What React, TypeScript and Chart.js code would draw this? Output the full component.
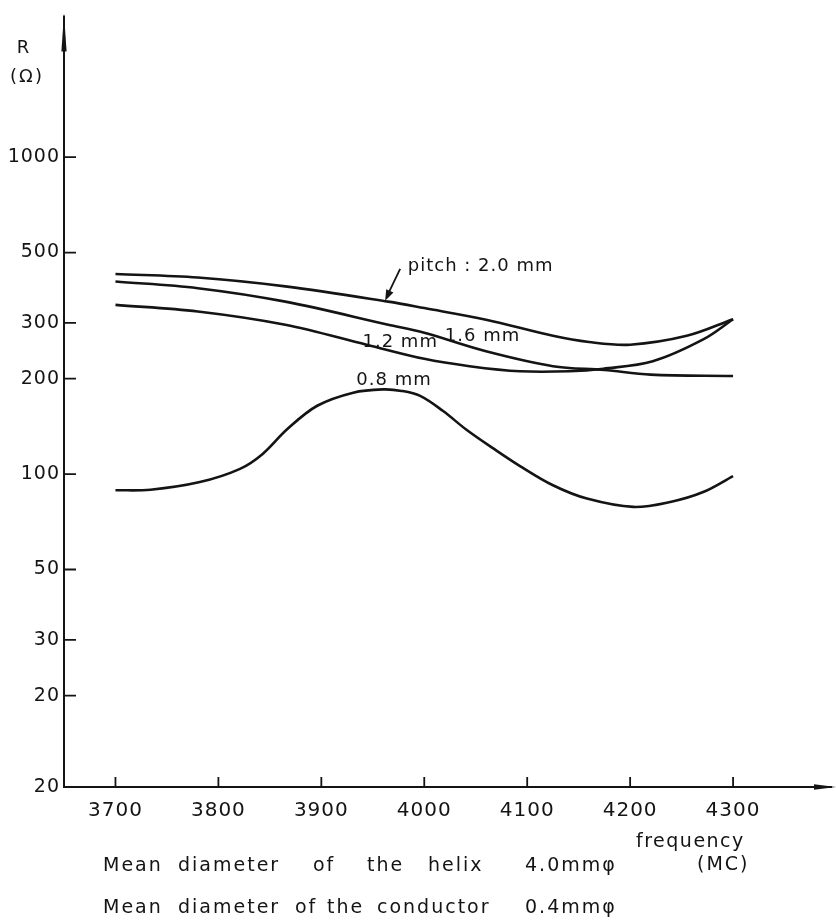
import React, { useEffect, useRef } from 'react';
import { Chart, registerables } from 'chart.js';

Chart.register(...registerables);

// ---- data (frequency in MC, resistance R in ohm) ----
const freqPitch20 = [3700, 3780, 3865, 3965, 4000, 4060, 4125, 4160, 4200, 4255, 4300];
const rPitch20 = [428, 417, 391, 350, 334, 307, 273, 261, 256, 273, 308];

const freqPitch16 = [3700, 3780, 3865, 3965, 4000, 4060, 4125, 4175, 4220, 4300];
const rPitch16 = [405, 386, 350, 296, 279, 244, 219, 213, 206, 204];

const freqPitch12 = [3700, 3780, 3865, 3944, 4000, 4044, 4093, 4141, 4174, 4222, 4271, 4300];
const rPitch12 = [342, 326, 296, 256, 231, 219, 211, 211, 215, 227, 266, 308];

const freqPitch08 = [3700, 3734, 3782, 3821, 3843, 3867, 3896, 3931, 3960, 3978, 3996, 4018, 4041, 4067, 4093, 4125, 4158, 4203, 4239, 4271, 4300];
const rPitch08 = [88.9, 89.3, 94.4, 103.9, 115.8, 138.7, 164.3, 180.7, 185, 183, 176.5, 158.4, 138.0, 120.5, 106.0, 92.2, 83.7, 78.8, 81.7, 87.8, 98.6];

const seriesNames = ['pitch : 2.0 mm', '1.6 mm', '1.2 mm', '0.8 mm'];

const xTickValues = [3700, 3800, 3900, 4000, 4100, 4200, 4300];
const yTickValues = [20, 30, 50, 100, 200, 300, 500, 1000];
const yBottomLabel = '20';
const xMin = 3650;
const xMax = 4400;
const yMin = 10.3;
const yMax = 2800;

// label anchors in data units (left edge, vertical centre)
const curveLabelAnchors = [
  { text: seriesNames[0], f: 3984, r: 452 },
  { text: seriesNames[1], f: 4020, r: 272 },
  { text: seriesNames[2], f: 3940, r: 261 },
  { text: seriesNames[3], f: 3934, r: 198 },
];
const pitchArrowTip = { f: 3962, r: 352 };

const INK = '#141414';
const FONT = '"DejaVu Sans", sans-serif';

function pts(fs: number[], rs: number[]) {
  return fs.map((f, i) => ({ x: f, y: rs[i] }));
}

const decorPlugin = {
  id: 'decor',
  beforeDraw(chart: any) {
    const ctx = chart.ctx;
    ctx.save();
    ctx.letterSpacing = '1px';
  },
  afterDraw(chart: any) {
    const ctx = chart.ctx;
    ctx.restore();
    const { left, right, top, bottom } = chart.chartArea;
    const xs = chart.scales.x;
    const ys = chart.scales.y;
    ctx.save();
    ctx.strokeStyle = INK;
    ctx.fillStyle = INK;
    ctx.lineWidth = 2;
    ctx.lineCap = 'butt';
    // axes
    ctx.beginPath();
    ctx.moveTo(left, bottom + 1);
    ctx.lineTo(left, top);
    ctx.moveTo(left - 1, bottom);
    ctx.lineTo(right - 4, bottom);
    ctx.stroke();
    // arrow heads
    ctx.beginPath();
    ctx.moveTo(left, top - 2);
    ctx.lineTo(left - 2.6, top + 36);
    ctx.lineTo(left + 2.6, top + 36);
    ctx.closePath();
    ctx.fill();
    ctx.beginPath();
    ctx.moveTo(right, bottom);
    ctx.lineTo(right - 22, bottom - 2.8);
    ctx.lineTo(right - 22, bottom + 2.8);
    ctx.closePath();
    ctx.fill();
    // inward ticks
    ctx.lineWidth = 1.8;
    ctx.beginPath();
    yTickValues.forEach((v) => {
      const py = ys.getPixelForValue(v);
      ctx.moveTo(left, py);
      ctx.lineTo(left + 12, py);
    });
    xTickValues.forEach((v) => {
      const px = xs.getPixelForValue(v);
      ctx.moveTo(px, bottom);
      ctx.lineTo(px, bottom - 10);
    });
    ctx.stroke();

    // curve labels
    ctx.textBaseline = 'middle';
    ctx.textAlign = 'left';
    ctx.font = `18px ${FONT}`;
    ctx.letterSpacing = '1px';
    curveLabelAnchors.forEach((a) => {
      ctx.fillText(a.text, xs.getPixelForValue(a.f), ys.getPixelForValue(a.r));
    });
    // pitch arrow
    const tx = xs.getPixelForValue(pitchArrowTip.f);
    const ty = ys.getPixelForValue(pitchArrowTip.r);
    const sx = tx + 15;
    const sy = ty - 32;
    ctx.lineWidth = 1.8;
    ctx.beginPath();
    ctx.moveTo(sx, sy);
    ctx.lineTo(tx + 2, ty - 5);
    ctx.stroke();
    const ang = Math.atan2(ty - sy, tx - sx);
    ctx.beginPath();
    ctx.moveTo(tx, ty);
    ctx.lineTo(tx - 11 * Math.cos(ang) + 4 * Math.sin(ang), ty - 11 * Math.sin(ang) - 4 * Math.cos(ang));
    ctx.lineTo(tx - 11 * Math.cos(ang) - 4 * Math.sin(ang), ty - 11 * Math.sin(ang) + 4 * Math.cos(ang));
    ctx.closePath();
    ctx.fill();

    // axis titles
    ctx.font = `18px ${FONT}`;
    ctx.textAlign = 'center';
    ctx.letterSpacing = '0px';
    ctx.fillText('R', 23, 48);
    ctx.letterSpacing = '2px';
    ctx.fillText('(Ω)', 27, 77);

    ctx.font = `19px ${FONT}`;
    ctx.textAlign = 'left';
    ctx.letterSpacing = '1.5px';
    ctx.fillText('frequency', 636, 842);
    ctx.letterSpacing = '2px';
    ctx.fillText('(MC)', 697, 865);

    // notes
    const line1: [string, number][] = [
      ['Mean', 103], ['diameter', 178], ['of', 313], ['the', 367], ['helix', 428], ['4.0mmφ', 525],
    ];
    const line2: [string, number][] = [
      ['Mean', 103], ['diameter', 178], ['of', 295], ['the', 327], ['conductor', 377], ['0.4mmφ', 525],
    ];
    ctx.letterSpacing = '2px';
    line1.forEach(([t, x]) => ctx.fillText(t, x, 866));
    line2.forEach(([t, x]) => ctx.fillText(t, x, 908));
    ctx.restore();
  },
};

export default function App() {
  const canvasRef = useRef<HTMLCanvasElement | null>(null);

  useEffect(() => {
    if (!canvasRef.current) return;
    const lineDs = (label: string, fs: number[], rs: number[]) => ({
      label,
      data: pts(fs, rs),
      borderColor: INK,
      backgroundColor: INK,
      borderWidth: 2.6,
      pointRadius: 0,
      fill: false,
      tension: 0.35,
    });
    const chart = new Chart(canvasRef.current, {
      type: 'line',
      data: {
        datasets: [
          lineDs(seriesNames[0], freqPitch20, rPitch20),
          lineDs(seriesNames[1], freqPitch16, rPitch16),
          lineDs(seriesNames[2], freqPitch12, rPitch12),
          lineDs(seriesNames[3], freqPitch08, rPitch08),
        ],
      },
      options: {
        animation: false,
        responsive: true,
        maintainAspectRatio: false,
        layout: { padding: { top: 10, right: 0, left: 0, bottom: 0 } },
        plugins: { legend: { display: false }, tooltip: { enabled: false } },
        scales: {
          x: {
            type: 'linear',
            min: xMin,
            max: xMax,
            grid: { display: false, drawTicks: false },
            border: { display: false },
            afterBuildTicks: (s: any) => {
              s.ticks = xTickValues.map((v) => ({ value: v }));
            },
            afterFit: (s: any) => {
              s.height = 134;
            },
            ticks: {
              autoSkip: false,
              maxRotation: 0,
              padding: 12,
              color: INK,
              font: { family: FONT, size: 20 },
              callback: (v: any) => String(v),
            },
          },
          y: {
            type: 'logarithmic',
            min: yMin,
            max: yMax,
            grid: { display: false, drawTicks: false },
            border: { display: false },
            afterBuildTicks: (s: any) => {
              s.ticks = [yMin, ...yTickValues].map((v) => ({ value: v }));
            },
            afterFit: (s: any) => {
              s.width = 64;
            },
            ticks: {
              autoSkip: false,
              padding: 4,
              color: INK,
              font: { family: FONT, size: 19 },
              callback: (v: any) => (v === yMin ? yBottomLabel : String(v)),
            },
          },
        },
      },
      plugins: [decorPlugin],
    });
    return () => chart.destroy();
  }, []);

  return (
    <div style={{ position: 'fixed', left: 0, top: 0, width: 836, height: 921, background: '#fff' }}>
      <canvas ref={canvasRef} />
    </div>
  );
}
